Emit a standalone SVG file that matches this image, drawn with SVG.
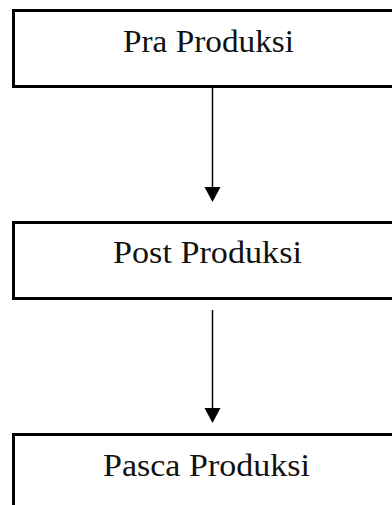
<svg xmlns="http://www.w3.org/2000/svg" width="392" height="505" viewBox="0 0 392 505">
<style>
.box{fill:#fff;stroke:#000;stroke-width:3}
.lbl{font-family:"Liberation Serif",serif;font-size:31px;fill:#111;text-anchor:middle}
.conn{stroke:#000;stroke-width:1.5;fill:none}
.head{fill:#000}
</style>
<rect width="392" height="505" fill="#fff"/>
<g id="node-pra">
<rect class="box" x="13.5" y="10.5" width="400" height="76"/>
<text class="lbl" x="208.5" y="52" textLength="171" lengthAdjust="spacingAndGlyphs">Pra Produksi</text>
</g>
<g id="node-post">
<rect class="box" x="13.5" y="222.5" width="400" height="76"/>
<text class="lbl" x="207.5" y="263" textLength="189" lengthAdjust="spacingAndGlyphs">Post Produksi</text>
</g>
<g id="node-pasca">
<rect class="box" x="13.5" y="434.5" width="400" height="100"/>
<text class="lbl" x="206.5" y="476" textLength="207" lengthAdjust="spacingAndGlyphs">Pasca Produksi</text>
</g>
<g id="connectors">
<line class="conn" x1="212.5" y1="88" x2="212.5" y2="189"/>
<polygon class="head" points="204.5,187 220.5,187 212.5,202"/>
<line class="conn" x1="212.5" y1="310" x2="212.5" y2="410"/>
<polygon class="head" points="204.5,408 220.5,408 212.5,423"/>
</g>
</svg>
